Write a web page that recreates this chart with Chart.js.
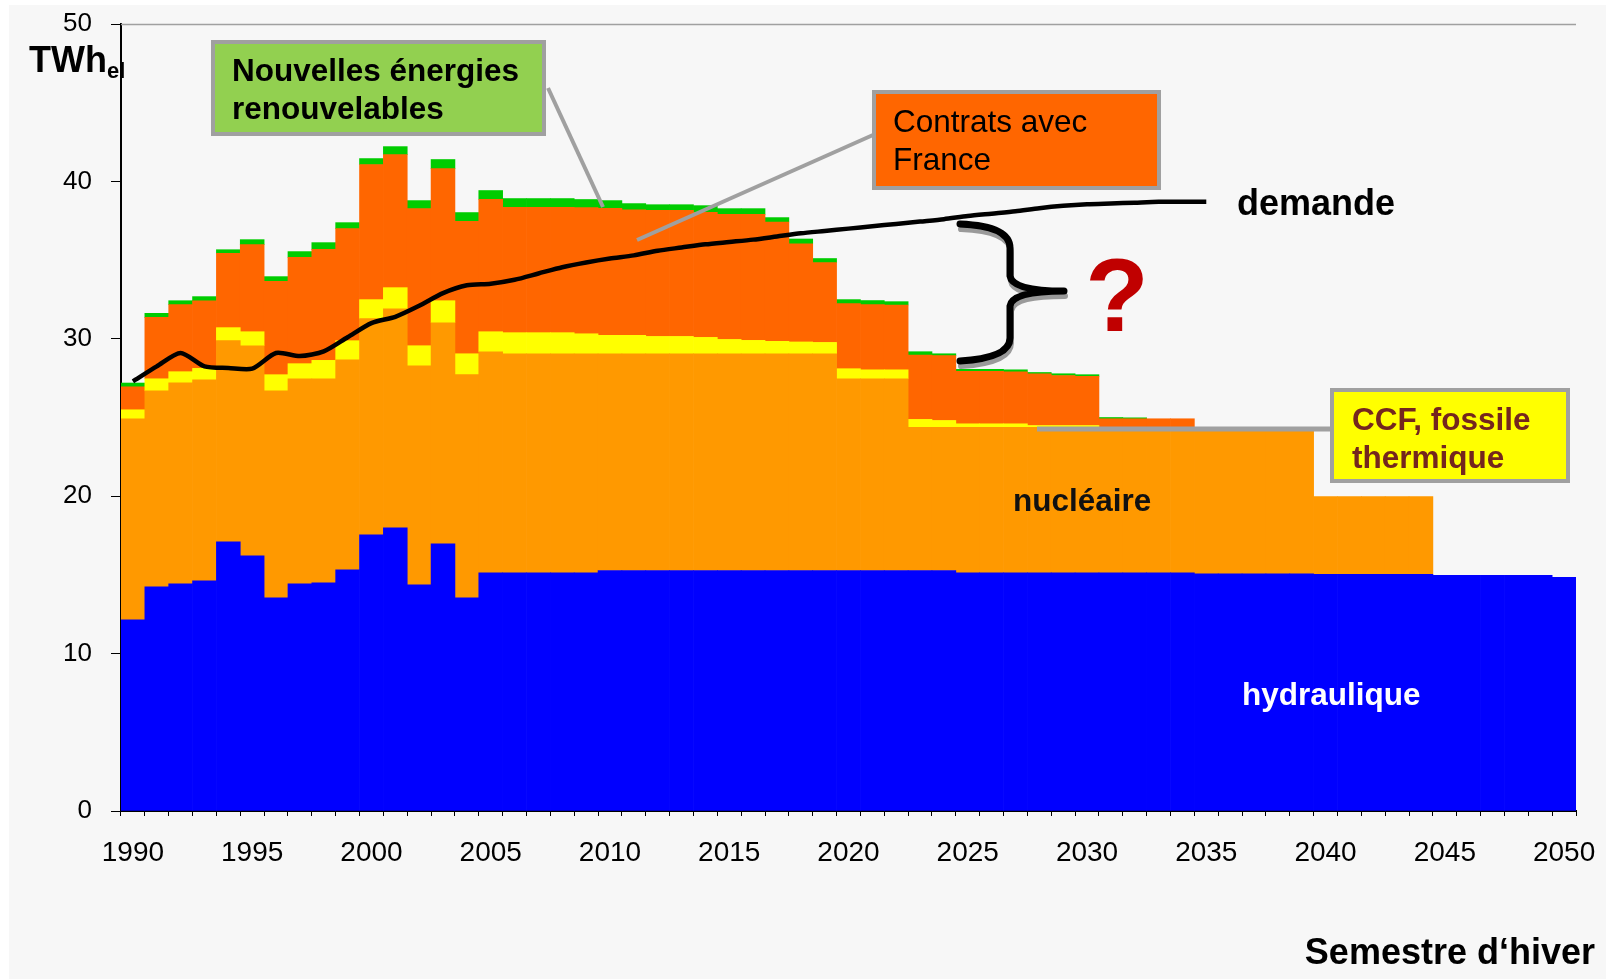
<!DOCTYPE html>
<html>
<head>
<meta charset="utf-8">
<script src="https://cdn.jsdelivr.net/npm/chart.js@4.4.1/dist/chart.umd.min.js"></script>
<style>
html,body{margin:0;padding:0;background:#fff;overflow:hidden;}
#wrap{width:1606px;height:979px;position:relative;}
</style>
</head>
<body>
<div id="wrap"><canvas id="c" width="1606" height="979"></canvas></div>
<script>
const years = ['1990','1991','1992','1993','1994','1995','1996','1997','1998','1999',
  '2000','2001','2002','2003','2004','2005','2006','2007','2008','2009',
  '2010','2011','2012','2013','2014','2015','2016','2017','2018','2019',
  '2020','2021','2022','2023','2024','2025','2026','2027','2028','2029',
  '2030','2031','2032','2033','2034','2035','2036','2037','2038','2039',
  '2040','2041','2042','2043','2044','2045','2046','2047','2048','2049','2050'];
const xTickLabels = ['1990','1995','2000','2005','2010','2015','2020','2025','2030','2035','2040','2045','2050'];
const yTickValues = [0,10,20,30,40,50];

const hydraulique = [12.14,14.24,14.43,14.62,17.10,16.21,13.54,14.43,14.49,15.32,
  17.55,17.99,14.37,16.97,13.54,15.13,15.13,15.13,15.13,15.13,
  15.28,15.28,15.28,15.28,15.28,15.28,15.28,15.28,15.28,15.28,
  15.28,15.28,15.28,15.28,15.28,15.13,15.13,15.13,15.13,15.13,
  15.13,15.13,15.13,15.13,15.13,15.07,15.07,15.07,15.07,15.07,
  15.03,15.03,15.03,15.03,15.03,14.97,14.97,14.97,14.97,14.97,14.84];
const nucleaire = [12.78,12.46,12.78,12.78,12.78,13.35,13.16,13.03,12.97,13.35,
  13.73,13.92,13.92,14.05,14.18,14.05,13.92,13.92,13.92,13.92,
  13.77,13.77,13.77,13.77,13.77,13.77,13.77,13.77,13.77,13.77,
  12.18,12.18,12.18,9.09,9.09,9.24,9.24,9.24,9.24,9.24,
  9.24,9.24,9.24,9.24,9.24,9.19,9.19,9.19,9.19,9.19,
  4.95,4.95,4.95,4.95,4.95,0,0,0,0,0,0];
const ccfFossile = [0.57,0.76,0.70,0.72,0.83,0.89,1.02,0.96,1.17,1.21,
  1.21,1.34,1.27,1.40,1.33,1.27,1.34,1.34,1.34,1.27,
  1.17,1.17,1.10,1.10,1.04,0.91,0.85,0.79,0.75,0.72,
  0.64,0.57,0.57,0.51,0.44,0.23,0.23,0.23,0.12,0.12,
  0.12,0,0,0,0,0,0,0,0,0,
  0,0,0,0,0,0,0,0,0,0,0];
const contratsFrance = [1.46,3.90,4.26,4.30,4.72,5.53,5.93,6.76,7.05,7.12,
  8.58,8.45,8.71,8.39,8.41,8.41,7.97,7.97,7.97,8.01,
  8.07,7.98,8.01,8.01,7.95,7.95,8.01,7.58,6.23,5.07,
  4.13,4.14,4.12,4.09,4.12,3.33,3.33,3.30,3.28,3.18,
  3.13,0.55,0.55,0.55,0.55,0,0,0,0,0,
  0,0,0,0,0,0,0,0,0,0,0];
const renouvelables = [0.24,0.26,0.25,0.26,0.23,0.32,0.30,0.36,0.43,0.38,
  0.38,0.51,0.51,0.58,0.56,0.56,0.55,0.55,0.55,0.52,
  0.49,0.39,0.36,0.36,0.42,0.36,0.36,0.28,0.31,0.26,
  0.26,0.26,0.21,0.21,0.12,0.13,0.13,0.13,0.09,0.11,
  0.10,0.08,0.06,0,0,0,0,0,0,0,
  0,0,0,0,0,0,0,0,0,0,0];
const demande = [27.3,28.25,29.1,28.25,28.15,28.1,29.1,28.9,29.2,30.1,
  31.0,31.4,32.1,32.9,33.4,33.5,33.75,34.15,34.55,34.85,
  35.1,35.3,35.6,35.8,36.0,36.15,36.3,36.5,36.7,36.85,
  37.0,37.15,37.3,37.45,37.6,37.8,37.95,38.1,38.3,38.45,
  38.55,38.6,38.65,38.7,38.7,38.7,null,null,null,null,
  null,null,null,null,null,null,null,null,null,null,null];

const FONT = '"Liberation Sans", Arial, Helvetica, sans-serif';

function barSet(label, arr, color) {
  return {
    type: 'bar', label: label,
    data: arr.map(v => v === 0 ? null : v),
    backgroundColor: color, borderWidth: 0,
    categoryPercentage: 1, barPercentage: 1, order: 2
  };
}

const annot = {
  id: 'annot',
  beforeDraw(chart) {
    const ctx = chart.ctx;
    ctx.save();
    ctx.fillStyle = '#ffffff';
    ctx.fillRect(0, 0, 1606, 979);
    ctx.fillStyle = '#F7F7F7';
    ctx.fillRect(9, 5, 1597, 974);
    ctx.restore();
  },
  afterDraw(chart) {
    const ctx = chart.ctx;
    const ca = chart.chartArea;
    ctx.save();
    // top frame line
    ctx.strokeStyle = '#A0A0A0';
    ctx.lineWidth = 1.5;
    ctx.beginPath();
    ctx.moveTo(ca.left, ca.top + 0.5);
    ctx.lineTo(ca.right, ca.top + 0.5);
    ctx.stroke();

    // leader lines
    ctx.strokeStyle = '#A0A0A0';
    ctx.lineWidth = 4;
    ctx.lineCap = 'butt';
    ctx.beginPath(); ctx.moveTo(548, 88); ctx.lineTo(603, 207); ctx.stroke();
    ctx.beginPath(); ctx.moveTo(873, 135); ctx.lineTo(637, 240); ctx.stroke();
    ctx.lineWidth = 5;
    ctx.beginPath(); ctx.moveTo(1037, 429); ctx.lineTo(1331, 429); ctx.stroke();

    function box(x1, y1, x2, y2, fill) {
      ctx.fillStyle = fill;
      ctx.fillRect(x1, y1, x2 - x1, y2 - y1);
      ctx.strokeStyle = '#A0A0A0';
      ctx.lineWidth = 4;
      ctx.strokeRect(x1 + 2, y1 + 2, x2 - x1 - 4, y2 - y1 - 4);
    }
    box(211, 40, 546, 136, '#92D050');
    box(872, 90, 1161, 190, '#FF6600');
    box(1330, 388, 1570, 483, '#FFFF00');

    ctx.textAlign = 'left';
    ctx.textBaseline = 'alphabetic';
    ctx.fillStyle = '#000';
    ctx.font = 'bold 31.5px ' + FONT;
    ctx.fillText('Nouvelles énergies', 232, 81);
    ctx.fillText('renouvelables', 232, 119);
    ctx.font = '31.5px ' + FONT;
    ctx.fillText('Contrats avec', 893, 132);
    ctx.fillText('France', 893, 170);
    ctx.fillStyle = '#74261E';
    ctx.font = 'bold 31.5px ' + FONT;
    ctx.fillText('CCF, fossile', 1352, 430);
    ctx.fillText('thermique', 1352, 468);

    ctx.fillStyle = '#111';
    ctx.font = 'bold 31.5px ' + FONT;
    ctx.fillText('nucléaire', 1013, 511);
    ctx.fillStyle = '#ffffff';
    ctx.fillText('hydraulique', 1242, 705);

    ctx.fillStyle = '#000';
    ctx.font = 'bold 36px ' + FONT;
    ctx.fillText('demande', 1237, 215);

    // axis titles
    ctx.font = 'bold 36px ' + FONT;
    ctx.fillText('TWh', 29, 72);
    const tw = ctx.measureText('TWh').width;
    ctx.font = 'bold 22px ' + FONT;
    ctx.fillText('el', 29 + tw, 78);
    ctx.font = 'bold 36px ' + FONT;
    ctx.textAlign = 'right';
    ctx.fillText('Semestre d\u2018hiver', 1595, 964);

    // brace with shadow
    function brace(dx, dy) {
      ctx.beginPath();
      ctx.moveTo(960 + dx, 224 + dy);
      ctx.quadraticCurveTo(1010 + dx, 226 + dy, 1010 + dx, 248 + dy);
      ctx.lineTo(1010 + dx, 276 + dy);
      ctx.quadraticCurveTo(1012 + dx, 291 + dy, 1064 + dx, 291 + dy);
      ctx.moveTo(1064 + dx, 291 + dy);
      ctx.quadraticCurveTo(1012 + dx, 291 + dy, 1010 + dx, 306 + dy);
      ctx.lineTo(1010 + dx, 338 + dy);
      ctx.quadraticCurveTo(1010 + dx, 358 + dy, 960 + dx, 361 + dy);
      ctx.stroke();
    }
    ctx.lineCap = 'round';
    ctx.lineJoin = 'round';
    ctx.strokeStyle = '#9A9A9A';
    ctx.lineWidth = 6;
    brace(1, 5);
    ctx.strokeStyle = '#000';
    ctx.lineWidth = 7;
    brace(0, 0);

    // question mark
    ctx.fillStyle = '#C00000';
    ctx.textAlign = 'center';
    ctx.font = 'bold 104px ' + FONT;
    ctx.fillText('?', 1117, 331);
    ctx.restore();
  }
};

new Chart(document.getElementById('c'), {
  data: {
    labels: years,
    datasets: [
      { type: 'line', label: 'demande', data: demande, borderColor: '#000', borderWidth: 4.5,
        pointRadius: 0, tension: 0.25, fill: false, order: 0, spanGaps: false },
      barSet('hydraulique', hydraulique, '#0000FF'),
      barSet('nucléaire', nucleaire, '#FF9900'),
      barSet('CCF, fossile thermique', ccfFossile, '#FFFF00'),
      barSet('Contrats avec France', contratsFrance, '#FF6600'),
      barSet('Nouvelles énergies renouvelables', renouvelables, '#00CC00')
    ]
  },
  options: {
    responsive: false,
    devicePixelRatio: 1,
    animation: false,
    layout: { padding: { top: 24, right: 30, left: 0, bottom: 0 } },
    plugins: { legend: { display: false }, tooltip: { enabled: false } },
    scales: {
      x: {
        stacked: true,
        offset: true,
        grid: { display: true, drawOnChartArea: false, drawTicks: true, tickLength: 5, color: '#000', offset: true, lineWidth: 1 },
        border: { display: true, color: '#000', width: 2 },
        ticks: {
          autoSkip: false, maxRotation: 0, minRotation: 0, padding: 20, color: '#000',
          font: { family: FONT, size: 28 },
          callback: function (v) { const l = this.getLabelForValue(v); return xTickLabels.includes(l) ? l : ''; }
        },
        afterFit: s => { s.height = 168; s.paddingLeft = 0; s.paddingRight = 0; }
      },
      y: {
        stacked: true, min: 0, max: 50,
        afterBuildTicks: s => { s.ticks = yTickValues.map(v => ({ value: v })); },
        ticks: { padding: 19, color: '#000', font: { family: FONT, size: 26 } },
        grid: { drawOnChartArea: false, tickLength: 10, color: '#000' },
        border: { color: '#000', width: 2 },
        afterFit: s => { s.width = 121; s.paddingTop = 0; s.paddingBottom = 0; }
      }
    }
  },
  plugins: [annot]
});
</script>
</body>
</html>
